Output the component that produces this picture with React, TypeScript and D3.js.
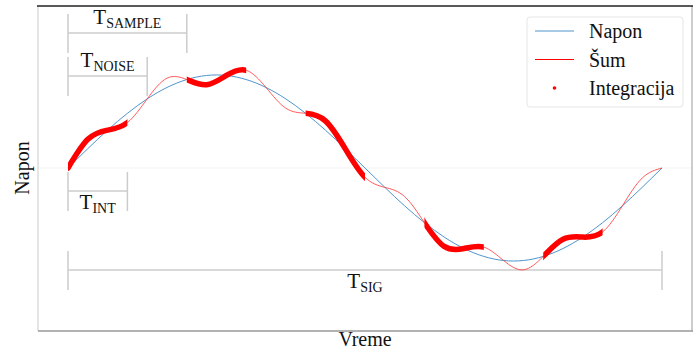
import React from 'react';
import { scaleLinear, line, curveNatural } from 'd3';

// time samples (fraction of the signal period) and read-off voltages
const times = [
  0, 1 / 30, 2 / 30, 3 / 30, 4 / 30, 5 / 30, 6 / 30, 7 / 30, 8 / 30, 9 / 30,
  10 / 30, 11 / 30, 12 / 30, 13 / 30, 14 / 30, 15 / 30, 16 / 30, 17 / 30, 18 / 30, 19 / 30,
  20 / 30, 21 / 30, 22 / 30, 23 / 30, 24 / 30, 25 / 30, 26 / 30, 27 / 30, 28 / 30, 29 / 30, 1
];
const napon = [
  0, 0.208, 0.407, 0.588, 0.743, 0.866, 0.951, 0.995, 0.995, 0.951,
  0.866, 0.743, 0.588, 0.407, 0.208, 0, -0.208, -0.407, -0.588, -0.743,
  -0.866, -0.951, -0.995, -0.995, -0.951, -0.866, -0.743, -0.588, -0.407, -0.208, 0
];
const sum = [
  0, 0.308, 0.407, 0.488, 0.743, 0.966, 0.951, 0.895, 0.995, 1.051,
  0.866, 0.643, 0.588, 0.507, 0.208, -0.1, -0.208, -0.307, -0.588, -0.843,
  -0.866, -0.851, -0.995, -1.095, -0.951, -0.766, -0.743, -0.688, -0.407, -0.108, 0
];

// integration windows [start, end]
const integracija = [
  [0, 0.1],
  [0.2, 0.3],
  [0.4, 0.5],
  [0.6, 0.7],
  [0.8, 0.9]
];

// interval annotations
const intervalLabels = ['SAMPLE', 'NOISE', 'INT', 'SIG'];
const intervalStart = [0, 0, 0, 0];
const intervalEnd = [0.2, 2 / 15, 0.1, 1];

const legendLabels = ['Napon', 'Šum', 'Integracija'];

const W = 697;
const H = 351;
const font = "'Liberation Serif', 'Times New Roman', Times, serif";

const App = () => {
  const x = scaleLinear().domain([-0.0505, 1.0505]).range([38, 692]);
  const y = scaleLinear().domain([-1.753, 1.742]).range([331, 6]);

  const pts = (vals: number[]) => times.map((t, i) => [t, vals[i]] as [number, number]);
  const path = line<[number, number]>()
    .x(d => x(d[0]))
    .y(d => y(d[1]))
    .curve(curveNatural);

  const blue = '#4f94cd';
  const gray = '#cccccc';
  const sumPath = path(pts(sum)) || '';

  // annotation layout: line height and which side the label sits on
  const annY = [33, 76, 191, 270];
  const above = [true, true, false, false];

  return (
    <svg width={W} height={H} style={{ position: 'absolute', left: 0, top: 0, fontFamily: font }}>
      <defs>
        {integracija.map((w, i) => (
          <clipPath id={`int-${i}`} key={i}>
            <rect x={x(w[0])} y={0} width={x(w[1]) - x(w[0])} height={H} />
          </clipPath>
        ))}
      </defs>

      {/* zero line */}
      <line x1={38} x2={692} y1={y(0)} y2={y(0)} stroke="#f2f2f2" strokeWidth={1} />

      {/* annotations */}
      {intervalLabels.map((lab, i) => {
        const x0 = x(intervalStart[i]);
        const x1 = x(intervalEnd[i]);
        const ly = annY[i];
        const cx = (x0 + x1) / 2;
        const ty = above[i] ? ly - 9 : ly + 18;
        return (
          <g key={lab}>
            <line x1={x0} x2={x1} y1={ly} y2={ly} stroke={gray} strokeWidth={1.5} />
            <line x1={x0} x2={x0} y1={ly - 19} y2={ly + 20} stroke={gray} strokeWidth={1.5} />
            <line x1={x1} x2={x1} y1={ly - 19} y2={ly + 20} stroke={gray} strokeWidth={1.5} />
            <text x={cx} y={ty} textAnchor="middle" fontSize={21} fill="#111" style={{ fontFamily: font }}>
              T<tspan fontSize={14} dy={4}>{lab}</tspan>
            </text>
          </g>
        );
      })}

      {/* signal */}
      <path d={path(pts(napon)) || ''} fill="none" stroke={blue} strokeWidth={1} />
      {/* noisy signal */}
      <path d={sumPath} fill="none" stroke="#ff3333" strokeOpacity={0.8} strokeWidth={1} />
      {/* integration windows */}
      {integracija.map((w, i) => (
        <path
          key={i}
          d={sumPath}
          fill="none"
          stroke="#ff0000"
          strokeWidth={5.5}
          strokeLinecap="round"
          clipPath={`url(#int-${i})`}
        />
      ))}

      {/* frame */}
      <line x1={38} x2={38} y1={6} y2={331} stroke="#dddddd" strokeWidth={1.5} />
      <line x1={692} x2={692} y1={6} y2={331} stroke="#bbbbbb" strokeWidth={1.5} />
      <line x1={38} x2={693} y1={331} y2={331} stroke="#999999" strokeWidth={1.5} />
      <line x1={37} x2={693} y1={6} y2={6} stroke="#222222" strokeWidth={1.5} />

      {/* axis labels */}
      <text x={365} y={346} textAnchor="middle" fontSize={20} fill="#111" style={{ fontFamily: font }}>Vreme</text>
      <text
        transform={`translate(29, ${y(0)}) rotate(-90)`}
        textAnchor="middle"
        fontSize={20}
        fill="#111"
        style={{ fontFamily: font }}
      >
        Napon
      </text>

      {/* legend */}
      <rect x={527} y={17} width={156} height={90} rx={3} fill="#fff" stroke="#e6e6e6" strokeWidth={1} />
      {legendLabels.map((lab, i) => {
        const ly = 31 + i * 28.5;
        return (
          <g key={lab}>
            {i === 0 && <line x1={535} x2={574} y1={ly} y2={ly} stroke={blue} strokeWidth={1} />}
            {i === 1 && <line x1={535} x2={574} y1={ly} y2={ly} stroke="#ff0000" strokeWidth={1} />}
            {i === 2 && <circle cx={554.5} cy={ly} r={1.8} fill="#ff0000" />}
            <text x={589} y={ly + 7} fontSize={20} fill="#111" style={{ fontFamily: font }}>{lab}</text>
          </g>
        );
      })}
    </svg>
  );
};

export default App;
